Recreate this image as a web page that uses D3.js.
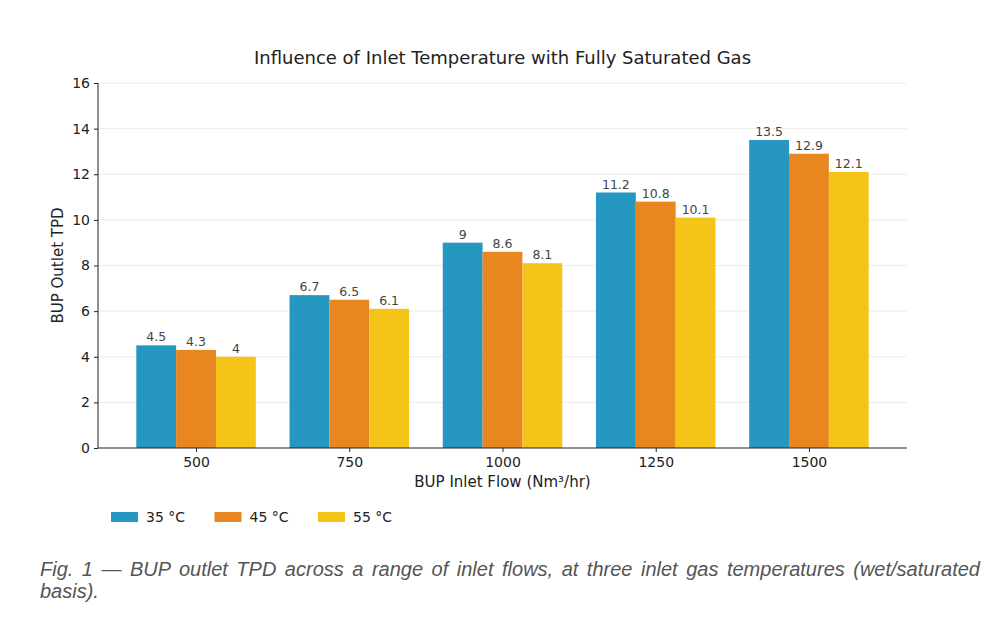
<!DOCTYPE html>
<html><head><meta charset="utf-8">
<script src="https://cdn.jsdelivr.net/npm/d3@7"></script>
<style>
body{margin:0;background:#fff;}
.caption{position:absolute;left:40px;top:558px;width:940px;font-family:"Liberation Sans",Arial,sans-serif;font-style:italic;font-size:20px;line-height:22px;color:#555;text-align:justify;}
</style></head>
<body>
<svg id="chart" width="995" height="545"></svg>
<div class="caption">Fig. 1 — BUP outlet TPD across a range of inlet flows, at three inlet gas temperatures (wet/saturated basis).</div>
<script>
const categories = ["500","750","1000","1250","1500"];
const seriesNames = ["35 °C","45 °C","55 °C"];
const s35 = [4.5, 6.7, 9, 11.2, 13.5];
const s45 = [4.3, 6.5, 8.6, 10.8, 12.9];
const s55 = [4, 6.1, 8.1, 10.1, 12.1];
const yTicks = [0,2,4,6,8,10,12,14,16];
const colors = ["#2597c0","#e8871f","#f5c419"];
const series = [s35, s45, s55];

const svg = d3.select("#chart");
const L = 98, R = 907, T = 83, B = 448;
const x = d3.scaleLinear().domain([-0.64, 4.64]).range([L, R]);
const y = d3.scaleLinear().domain([0, 16]).range([B, T]);
const bw = 0.26;
const font = "DejaVu Sans, sans-serif";

// grid
svg.append("g").selectAll("line").data(yTicks.slice(1)).join("line")
  .attr("x1", L).attr("x2", R).attr("y1", d => y(d)).attr("y2", d => y(d))
  .attr("stroke", "#ececec").attr("stroke-width", 1);

// bars
series.forEach((vals, si) => {
  const g = svg.append("g");
  g.selectAll("rect").data(vals).join("rect")
    .attr("x", (d, i) => x(i + (si - 1) * bw - bw / 2))
    .attr("width", (d, i) => x(i + (si - 1) * bw + bw / 2) - x(i + (si - 1) * bw - bw / 2))
    .attr("y", d => y(d)).attr("height", d => B - y(d))
    .attr("fill", colors[si]);
  g.selectAll("text").data(vals).join("text")
    .attr("x", (d, i) => x(i + (si - 1) * bw))
    .attr("y", d => y(d) - 4)
    .attr("text-anchor", "middle")
    .attr("font-family", font).attr("font-size", 12.5).attr("fill", "#444")
    .text(d => d);
});

// axes
const yAxis = d3.axisLeft(y).tickValues(yTicks).tickSize(4).tickPadding(4);
const gy = svg.append("g").attr("transform", `translate(${L},0)`).call(yAxis);
gy.select(".domain").attr("stroke", "#222").attr("d", `M0,${B}V${T}`);
gy.selectAll(".tick line").attr("stroke", "#222");
gy.selectAll("text").attr("font-family", font).attr("font-size", 14).attr("fill", "#222");

const xAxis = d3.axisBottom(x).tickValues(d3.range(categories.length)).tickFormat(i => categories[i]).tickSize(4).tickPadding(5);
const gx = svg.append("g").attr("transform", `translate(0,${B})`).call(xAxis);
gx.select(".domain").attr("stroke", "#222").attr("d", `M${L},0H${R}`);
gx.selectAll(".tick line").attr("stroke", "#222");
gx.selectAll("text").attr("font-family", font).attr("font-size", 14).attr("fill", "#222");

// title & labels
svg.append("text").attr("x", (L + R) / 2).attr("y", 64).attr("text-anchor", "middle")
  .attr("font-family", font).attr("font-size", 18).attr("fill", "#222")
  .text("Influence of Inlet Temperature with Fully Saturated Gas");
svg.append("text").attr("x", (L + R) / 2).attr("y", 487).attr("text-anchor", "middle")
  .attr("font-family", font).attr("font-size", 15).attr("fill", "#222")
  .text("BUP Inlet Flow (Nm³/hr)");
svg.append("text").attr("transform", `translate(63,${(T + B) / 2}) rotate(-90)`).attr("text-anchor", "middle")
  .attr("font-family", font).attr("font-size", 15).attr("fill", "#222")
  .text("BUP Outlet TPD");

// legend
const lg = svg.append("g");
seriesNames.forEach((n, i) => {
  const lx = 111 + i * 103.5;
  lg.append("rect").attr("x", lx).attr("y", 512).attr("width", 27).attr("height", 10).attr("fill", colors[i]);
  lg.append("text").attr("x", lx + 35).attr("y", 522).attr("font-family", font).attr("font-size", 14).attr("fill", "#222").text(n);
});
</script>
</body></html>
